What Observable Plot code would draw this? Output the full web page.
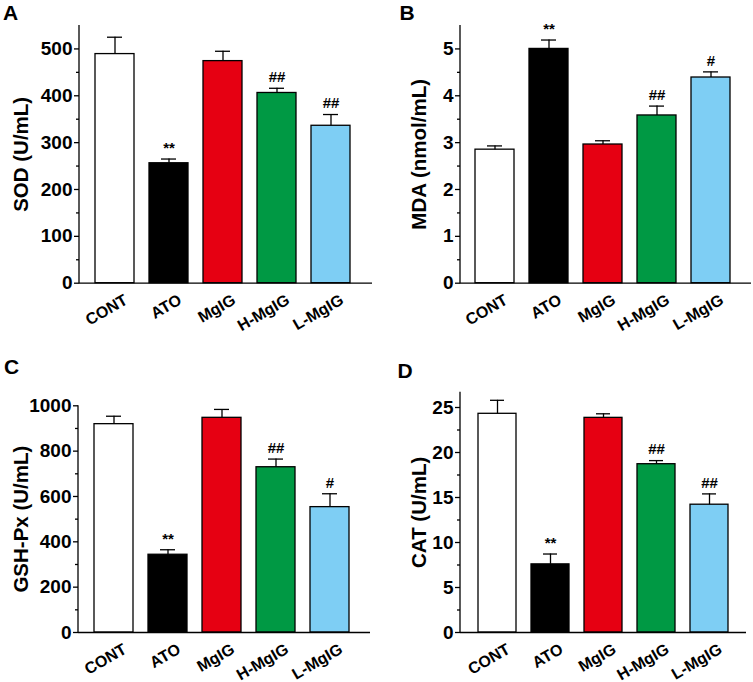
<!DOCTYPE html>
<html><head><meta charset="utf-8">
<script src="https://cdn.jsdelivr.net/npm/d3@7"></script>
<script src="https://cdn.jsdelivr.net/npm/@observablehq/plot@0.6"></script>
<style>
body{margin:0;background:#fff}
#wrap{position:relative;width:753px;height:682px;overflow:hidden;font-family:"Liberation Sans",Arial,sans-serif;color:#000}
.panel{position:absolute}
.letter{position:absolute;font-weight:bold;font-size:21px;line-height:1}
</style></head>
<body><div id="wrap"></div>
<script>
// ---- data ----
const groups = ["CONT", "ATO", "MgIG", "H-MgIG", "L-MgIG"];
const colors = ["#FFFFFF", "#000000", "#E60012", "#009944", "#7ECEF4"];

const sodMean = [489, 256, 474, 406, 336];
const sodErr  = [36, 9, 21, 10, 24];
const sodSig  = ["", "**", "", "##", "##"];
const sodTicks = [0, 100, 200, 300, 400, 500];
const sodMinor = [50, 150, 250, 350, 450];

const mdaMean = [2.85, 5.0, 2.96, 3.58, 4.39];
const mdaErr  = [0.08, 0.19, 0.08, 0.20, 0.12];
const mdaSig  = ["", "**", "", "##", "#"];
const mdaTicks = [0, 1, 2, 3, 4, 5];
const mdaMinor = [0.5, 1.5, 2.5, 3.5, 4.5];

const gshMean = [919, 343, 947, 729, 553];
const gshErr  = [35, 22, 37, 36, 59];
const gshSig  = ["", "**", "", "##", "#"];
const gshTicks = [0, 200, 400, 600, 800, 1000];
const gshMinor = [100, 300, 500, 700, 900];

const catMean = [24.3, 7.57, 23.85, 18.7, 14.2];
const catErr  = [1.5, 1.15, 0.45, 0.4, 1.2];
const catSig  = ["", "**", "", "##", "##"];
const catTicks = [0, 5, 10, 15, 20, 25];
const catMinor = [2.5, 7.5, 12.5, 17.5, 22.5];

const FONT = '"Liberation Sans", Arial, Helvetica, sans-serif';
const wrap = document.getElementById("wrap");

function panel(cfg) {
  const data = groups.map((g, i) => ({
    group: g, mean: cfg.mean[i], err: cfg.err[i], sig: cfg.sig[i], top: cfg.mean[i] + cfg.err[i]
  }));
  const yLine = (index, scales, values, dims) => {
    const x = dims.marginLeft;
    return d3.create("svg:line")
      .attr("x1", x).attr("x2", x)
      .attr("y1", scales.y(cfg.domain[0]) + 0.65).attr("y2", scales.y(cfg.domain[1]))
      .attr("stroke", "#000").attr("stroke-width", 1.3).node();
  };
  const p = Plot.plot({
    width: cfg.w, height: cfg.h,
    marginLeft: cfg.ml, marginRight: cfg.mr, marginTop: cfg.mt, marginBottom: cfg.mb,
    style: {fontFamily: FONT, fontWeight: "bold", fontSize: "19px", color: "#000", background: "transparent", overflow: "visible"},
    x: {domain: groups, axis: null, paddingInner: 0.278, paddingOuter: 0.322, align: cfg.align},
    y: {domain: cfg.domain},
    color: {domain: groups, range: colors},
    marks: [
      Plot.barY(data, {x: "group", y: "mean", fill: "group", stroke: "#000", strokeWidth: 1.3}),
      Plot.ruleX(data, {x: "group", y1: "mean", y2: "top", stroke: "#000", strokeWidth: 1.3}),
      Plot.tickY(data, {x: "group", y: "top", stroke: "#000", strokeWidth: 1.3, insetLeft: 12, insetRight: 12}),
      Plot.text(data, {x: "group", y: "top", text: "sig", dy: -11, fontSize: 15, fontWeight: "bold", lineAnchor: "middle"}),
      Plot.ruleY([0], {stroke: "#000", strokeWidth: 1.3}),
      yLine,
      Plot.axisY({ticks: cfg.ticks, tickSize: 5, tickPadding: 2, strokeWidth: 1.3, fontSize: 19, fontWeight: "bold", tickFormat: d => String(d), label: null}),
      Plot.axisY({ticks: cfg.minor, tickSize: 3, strokeWidth: 1.3, tickFormat: () => "", label: null}),
      Plot.text(groups, {x: d => d, text: d => d, frameAnchor: "bottom", rotate: -30, textAnchor: "end", lineAnchor: "top", dx: 8, dy: 10, fontSize: 16, fontWeight: "bold"}),
      Plot.text([cfg.label], {text: d => d, frameAnchor: "left", rotate: -90, dx: cfg.labelDx, textAnchor: "middle", lineAnchor: "middle", fontSize: 20.5, fontWeight: "bold"})
    ]
  });
  p.classList.add("panel");
  p.style.left = cfg.left + "px";
  p.style.top = cfg.top + "px";
  wrap.appendChild(p);
  const L = document.createElement("div");
  L.className = "letter";
  L.textContent = cfg.letter;
  L.style.left = cfg.lx + "px";
  L.style.top = cfg.ly + "px";
  wrap.appendChild(L);
}

panel({letter: "A", lx: 3, ly: 2, left: 0, top: 0, w: 376, h: 341, ml: 79, mr: 4, mt: 25, mb: 58.3, align: 0.43,
  domain: [0, 550], ticks: sodTicks, minor: sodMinor, mean: sodMean, err: sodErr, sig: sodSig, label: "SOD (U/mL)", labelDx: -58});
panel({letter: "B", lx: 399.5, ly: 2, left: 376, top: 0, w: 377, h: 341, ml: 84, mr: 2, mt: 25, mb: 58.3, align: 0.43,
  domain: [0, 5.5], ticks: mdaTicks, minor: mdaMinor, mean: mdaMean, err: mdaErr, sig: mdaSig, label: "MDA (nmol/mL)", labelDx: -41});
panel({letter: "C", lx: 4, ly: 356, left: 0, top: 341, w: 376, h: 341, ml: 78, mr: 6, mt: 64.3, mb: 50, align: 0.43,
  domain: [0, 1000], ticks: gshTicks, minor: gshMinor, mean: gshMean, err: gshErr, sig: gshSig, label: "GSH-Px (U/mL)", labelDx: -57});
panel({letter: "D", lx: 397.5, ly: 360, left: 376, top: 341, w: 377, h: 341, ml: 84, mr: 7, mt: 50.7, mb: 50, align: 0.5,
  domain: [0, 26.7], ticks: catTicks, minor: catMinor, mean: catMean, err: catErr, sig: catSig, label: "CAT (U/mL)", labelDx: -41});
</script>
</body></html>
